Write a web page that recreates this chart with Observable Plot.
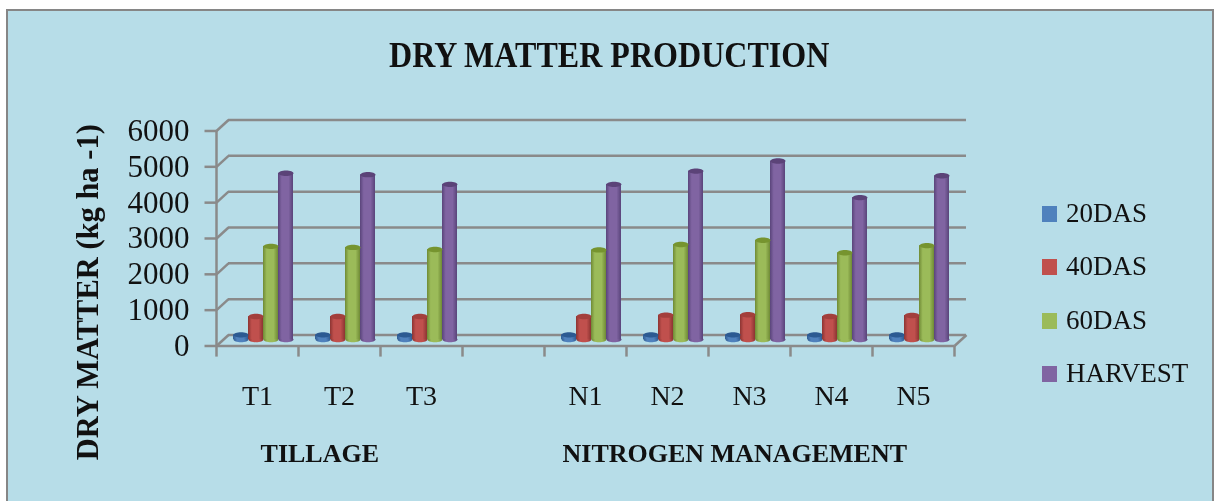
<!DOCTYPE html>
<html>
<head>
<meta charset="utf-8">
<script src="https://cdn.jsdelivr.net/npm/d3@7"></script>
<script src="https://cdn.jsdelivr.net/npm/@observablehq/plot@0.6"></script>
<style>
html,body{margin:0;padding:0;background:#fff;}
#wrap{position:absolute;left:0;top:0;width:1218px;height:501px;overflow:hidden;filter:blur(.45px);}
#card{position:absolute;left:6px;top:9px;width:1208px;height:492px;background:#b7dde8;border:2.5px solid #868686;border-bottom:none;box-sizing:border-box;}
#chart{position:absolute;left:0;top:0;}
#chart svg{background:transparent;display:block;}
.t{position:absolute;font-family:"Liberation Serif",serif;color:#111;white-space:nowrap;}
#title{left:389px;top:34px;font-size:36px;font-weight:bold;transform-origin:left top;transform:scaleX(.89);}
.leg{left:1066px;font-size:27px;}
.sw{position:absolute;left:1042px;width:15px;height:16px;}
</style>
</head>
<body>
<div id="wrap">
<div id="card"></div>
<div id="chart"></div>
<div class="t" id="title">DRY MATTER PRODUCTION</div>
<div id="legend"></div>
</div>
<script>
const categories = ["T1","T2","T3","","N1","N2","N3","N4","N5"];
const series = ["20DAS","40DAS","60DAS","HARVEST"];
const das20 =   [130,130,130,null,130,130,130,130,130];
const das40 =   [640,640,640,null,640,680,690,640,670];
const das60 =   [2600,2570,2510,null,2500,2650,2770,2420,2620];
const harvest = [4640,4600,4330,null,4330,4700,4980,3960,4570];
const yTicks = [0,1000,2000,3000,4000,5000,6000];
const groups = [{label:"TILLAGE",at:1.26},{label:"NITROGEN MANAGEMENT",at:6.32}];
const colors = ["#4f81bd","#c0504d","#9bbb59","#8064a2"];
const darks  = ["#2f5c93","#8c3432","#6f8a35","#59447a"];
const tops   = ["#2c5a92","#a33f3c","#76942f","#5b4378"];

const values = [das20,das40,das60,harvest];
const rows = series.flatMap((s,si)=>categories.map((c,ci)=>({c,ci,s,si,v:values[si][ci]}))).filter(d=>d.v!=null);

// band geometry in x-scale units (1 unit = one category)
const barW = 15/82, barStart = 17/82;
const x1 = d => d.ci + barStart + d.si*barW;
const x2 = d => x1(d) + barW;
const xm = d => x1(d) + barW/2;
// oblique depth of the 3-D floor
const depthX = 12/82, frontV = 181, backV = 125;

// flat ellipse symbol for cylinder caps
const cap = {draw(ctx,size){
  const rx=Math.sqrt(size/Math.PI), ry=rx*0.36, k=0.5523;
  ctx.moveTo(-rx,0);
  ctx.bezierCurveTo(-rx,-k*ry,-k*rx,-ry,0,-ry);
  ctx.bezierCurveTo(k*rx,-ry,rx,-k*ry,rx,0);
  ctx.bezierCurveTo(rx,k*ry,k*rx,ry,0,ry);
  ctx.bezierCurveTo(-k*rx,ry,-rx,k*ry,-rx,0);
  ctx.closePath();
}};

const defs = () => {
  const ns="http://www.w3.org/2000/svg";
  const d=document.createElementNS(ns,"defs");
  colors.forEach((c,i)=>{
    const g=document.createElementNS(ns,"linearGradient");
    g.setAttribute("id","g"+i);
    [[0,darks[i]],[.25,c],[.7,c],[1,darks[i]]].forEach(([o,col])=>{
      const s=document.createElementNS(ns,"stop");
      s.setAttribute("offset",o);s.setAttribute("stop-color",col);g.appendChild(s);
    });
    d.appendChild(g);
  });
  return d;
};

const grey="#8a8a8a";
const xTicks=d3.range(0,10);
const font="Liberation Serif";

const marks=[
  defs,
  // back wall gridlines
  Plot.ruleY(yTicks,{y:d=>d+backV,x1:depthX,x2:9+depthX,stroke:grey,strokeWidth:2.5}),
  // oblique connectors on the side wall
  Plot.link(yTicks,{x1:0,x2:depthX,y1:d=>d-frontV,y2:d=>d+backV,stroke:grey,strokeWidth:2.5}),
  // right floor edge
  Plot.link([0],{x1:9,x2:9+depthX,y1:-frontV,y2:backV,stroke:grey,strokeWidth:2.5}),
  // front floor
  Plot.ruleY([-frontV],{x1:0,x2:9,stroke:grey,strokeWidth:2.5}),
  // front wall axis line
  Plot.ruleX([0],{y1:-frontV,y2:6000-frontV,stroke:grey,strokeWidth:2.5}),
  // y ticks
  Plot.link(yTicks,{x1:-12/82,x2:0,y1:d=>d-frontV,y2:d=>d-frontV,stroke:grey,strokeWidth:2.5}),
  // x ticks
  Plot.ruleX(xTicks,{y1:-frontV,y2:-frontV-310,stroke:grey,strokeWidth:2.5}),
  // bar bases
  ...series.map((s,i)=>Plot.dot(rows.filter(d=>d.si===i),{x:xm,y:0,r:7.5,symbol:cap,fill:`url(#g${i})`,stroke:"none"})),
  // cylinders
  ...series.map((s,i)=>Plot.rectY(rows.filter(d=>d.si===i),{x1,x2,y1:0,y2:"v",fill:`url(#g${i})`})),
  ...series.map((s,i)=>Plot.dot(rows.filter(d=>d.si===i),{x:xm,y:"v",r:7.5,symbol:cap,fill:tops[i],stroke:"none"})),
  // y axis labels
  Plot.axisY({ticks:yTicks,tickSize:0,tickPadding:27,dy:6.5,fontSize:31,fontFamily:font,fill:"#111",label:null,tickFormat:d=>String(d)}),
  // x axis labels
  Plot.axisX({ticks:categories.map((c,i)=>i+.5).filter(i=>categories[i-.5]!==""),tickSize:0,tickPadding:39,fontSize:28,fontFamily:font,fill:"#111",label:null,tickFormat:i=>categories[i-.5]}),
  // group labels
  Plot.text(groups,{x:"at",y:()=>-3180,text:"label",fontSize:26,fontWeight:"bold",fontFamily:font,fill:"#111"}),
  // y axis title
  Plot.text(["DRY MATTER (kg ha -1)"],{frameAnchor:"left",textAnchor:"middle",dx:-128,dy:119,rotate:-90,fontSize:30.5,fontWeight:"bold",fontFamily:font,fill:"#111"})
];

const plot=Plot.plot({
  width:1218,height:501,
  marginLeft:216,marginRight:264,marginTop:0,marginBottom:155.5,
  x:{type:"linear",domain:[0,9],range:[216,954]},
  y:{type:"linear",domain:[0,6000],range:[339,124]},
  style:{background:"transparent"},
  marks
});
document.getElementById("chart").appendChild(plot);

const leg=document.getElementById("legend");
series.forEach((s,i)=>{
  const yy=[214,267,321,374][i];
  const sw=document.createElement("div");sw.className="sw";sw.style.top=(yy-8)+"px";sw.style.background=colors[i];leg.appendChild(sw);
  const t=document.createElement("div");t.className="t leg";t.textContent=s;t.style.top=(yy-16)+"px";leg.appendChild(t);
});
</script>
</body>
</html>
